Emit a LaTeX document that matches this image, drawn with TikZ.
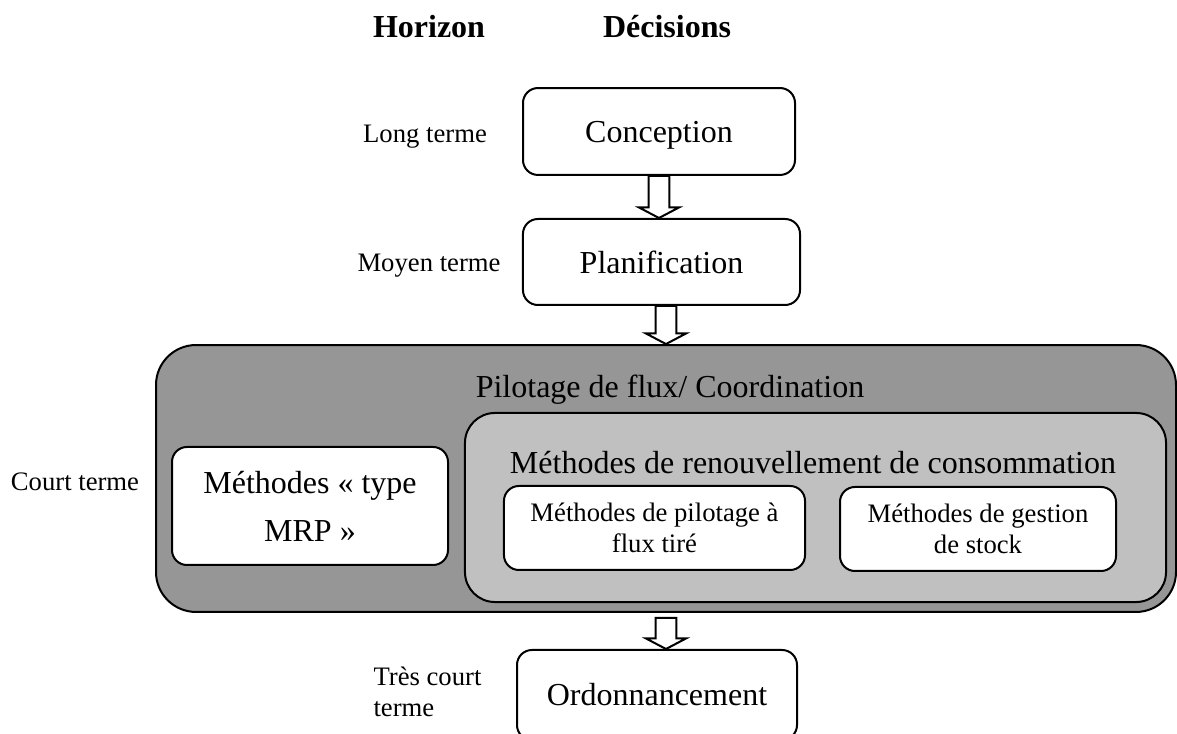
\documentclass[tikz,border=0pt]{standalone}
\usepackage{fontspec}
\setmainfont{Liberation Serif}
\usetikzlibrary{calc}
\definecolor{grisfonce}{RGB}{150,150,150}
\definecolor{grisclair}{RGB}{192,192,192}
% fleche creuse entre deux points (meme abscisse)
\newcommand{\flechebloc}[2]{%
  \draw[fleche] let \p1=(#1), \p2=(#2) in
    (\x1-3.9pt,\y1) -- (\x1+3.9pt,\y1) -- (\x1+3.9pt,\y2+4pt) -- (\x1+7.6pt,\y2+4pt)
    -- (\x1,\y2) -- (\x1-7.6pt,\y2+4pt) -- (\x1-3.9pt,\y2+4pt) -- cycle;}
\begin{document}
\begin{tikzpicture}[x=0.375pt,y=-0.375pt,
decision/.style ={rectangle, draw, line width=0.75pt, fill=white,
  rounded corners=5.6pt, text centered, inner sep=0pt,
  font=\fontsize{12}{18}\selectfont
},
methode/.style ={rectangle, draw, line width=0.75pt, fill=white,
  rounded corners=5.6pt, align=center, inner sep=0pt,
  minimum height=31.5pt, font=\fontsize{10}{11.5}\selectfont
},
horizon/.style ={inner sep=0pt, font=\fontsize{10}{11.5}\selectfont},
titre/.style ={inner sep=0pt, font=\fontsize{12}{14}\selectfont\bfseries},
fleche/.style ={draw, line width=0.75pt, fill=white, line join=miter}
]
\useasboundingbox (0,0) rectangle (1177,734);
\clip (0,0) rectangle (1177,734);

% en-tetes
\node (hor) at (429,27) [titre] {Horizon};
\node (dec) at (667,27) [titre] {Décisions};

% horizons
\node (long) at (425,137) [horizon] {Long terme};
\node (moyen) at (429,266) [horizon] {Moyen terme};
\node (court) at (75,482) [horizon] {Court terme};
\node (tcourt) at (373,692) [horizon, anchor=west, align=left] {Très court\\terme};

% decisions
\node (concept) at (659,131.5) [decision, minimum width=102pt, minimum height=32.6pt, text depth=-1.5pt] {Conception};
\node (planif) at (661.5,262) [decision, minimum width=103.9pt, minimum height=32.25pt, text depth=0pt] {Planification};

% pilotage
\node (pilot) at (666,478.5) [rectangle, draw, line width=0.75pt, fill=grisfonce,
  rounded corners=15pt, minimum width=382.5pt, minimum height=100.1pt] {};
\node (pilottxt) at (670,390) [inner sep=0pt, font=\fontsize{12}{14}\selectfont] {Pilotage de flux/ Coordination};
\node (renouv) at (815.5,507.5) [rectangle, draw, line width=0.75pt, fill=grisclair,
  rounded corners=11.25pt, minimum width=262.9pt, minimum height=70.9pt] {};
\node (renouvtxt) at (813,463) [inner sep=0pt, font=\fontsize{12}{14}\selectfont] {Méthodes de renouvellement de consommation};
\node (mrp) at (310,506) [decision, align=center, minimum width=103.5pt, minimum height=44.25pt] {Méthodes « type\\MRP »};
\node (tire) at (654.5,528) [methode, minimum width=112.9pt] {Méthodes de pilotage à\\flux tiré};
\node (stock) at (978,529) [methode, minimum width=103.5pt] {Méthodes de gestion\\de stock};

\node (ordo) at (657,695) [decision, minimum width=105pt, minimum height=33.75pt] {Ordonnancement};

% fleches
\flechebloc{concept.south}{concept.south |- planif.north}
\flechebloc{pilot.north |- planif.south}{pilot.north}
\flechebloc{$(pilot.south)+(0,5)$}{pilot.south |- ordo.north}
\end{tikzpicture}
\end{document}
